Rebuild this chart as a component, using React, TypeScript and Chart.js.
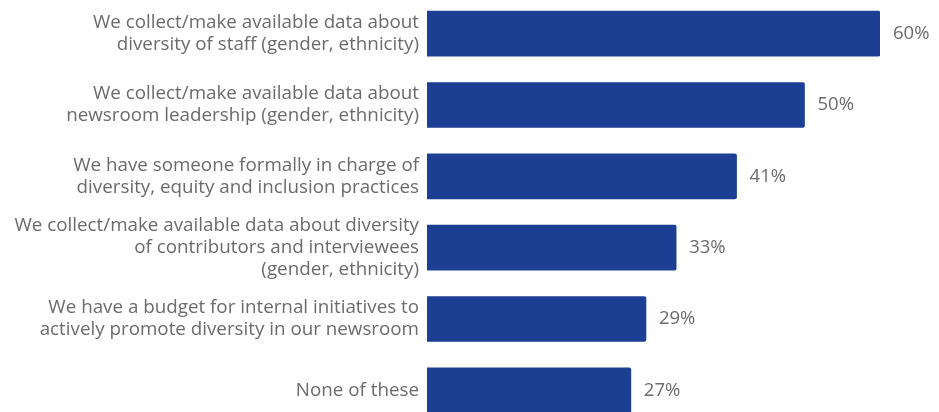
import React, { useEffect, useRef } from "react";
import { Chart, registerables } from "chart.js";

Chart.register(...registerables);

const categories: string[][] = [
  ["We collect/make available data about", "diversity of staff (gender, ethnicity)"],
  ["We collect/make available data about", "newsroom leadership (gender, ethnicity)"],
  ["We have someone formally in charge of", "diversity, equity and inclusion practices"],
  ["We collect/make available data about diversity", "of contributors and interviewees", "(gender, ethnicity)"],
  ["We have a budget for internal initiatives to", "actively promote diversity in our newsroom"],
  ["None of these"],
];
const values: number[] = [60, 50, 41, 33, 29, 27];
const valueLabels: string[] = ["60%", "50%", "41%", "33%", "29%", "27%"];

const FONT = "'Open Sans', sans-serif";
const TEXT = "#6b6b6b";
const BAR = "#1c3f94";

const valuePlugin = {
  id: "valueLabels",
  afterDatasetsDraw(chart: any) {
    const ctx = chart.ctx;
    const meta = chart.getDatasetMeta(0);
    ctx.save();
    ctx.fillStyle = TEXT;
    ctx.font = `18.5px ${FONT}`;
    ctx.textAlign = "left";
    ctx.textBaseline = "middle";
    meta.data.forEach((el: any, i: number) => {
      ctx.fillText(valueLabels[i], el.x + 13, el.y);
    });
    ctx.restore();
  },
};

export default function App() {
  const ref = useRef<HTMLCanvasElement>(null);
  useEffect(() => {
    if (!ref.current) return;
    const chart = new Chart(ref.current, {
      type: "bar",
      data: {
        labels: categories,
        datasets: [
          {
            data: values,
            backgroundColor: BAR,
            barThickness: 45,
            borderRadius: 2,
            borderSkipped: "start",
          },
        ],
      },
      options: {
        indexAxis: "y",
        animation: false,
        responsive: false,
        maintainAspectRatio: false,
        layout: { padding: { left: 0, right: 59, top: 0, bottom: 0 } },
        plugins: { legend: { display: false }, tooltip: { enabled: false } },
        scales: {
          x: { display: false, min: 0, max: 60 },
          y: {
            grid: { display: false, drawTicks: false },
            border: { display: false },
            afterFit(scale: any) {
              scale.width = 427;
              scale.paddingTop = 0;
              scale.paddingBottom = 0;
            },
            ticks: {
              color: TEXT,
              padding: 8,
              autoSkip: false,
              font: { family: FONT, size: 18.8, lineHeight: 1.18 },
            },
          },
        },
      },
      plugins: [valuePlugin],
    });
    return () => chart.destroy();
  }, []);
  return (
    <div style={{ position: "fixed", left: 0, top: -2, width: 939, height: 428, background: "#fff" }}>
      <canvas ref={ref} width={939} height={428} style={{ width: 939, height: 428 }} />
    </div>
  );
}
